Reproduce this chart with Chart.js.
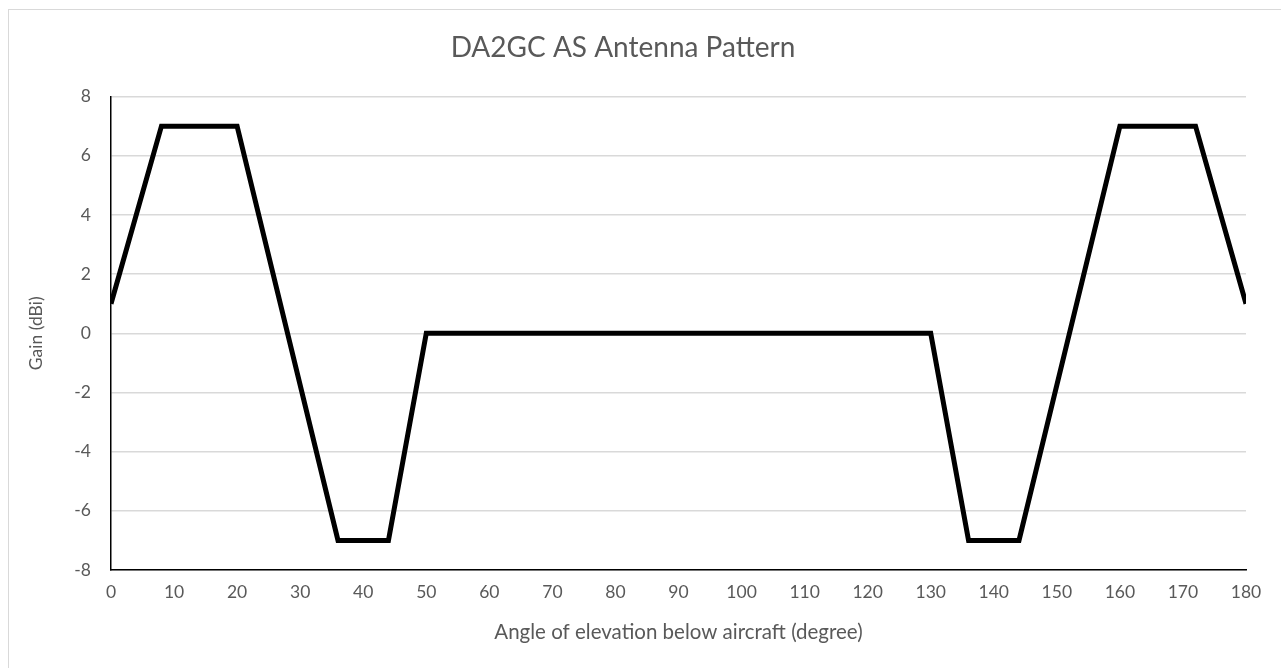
<!DOCTYPE html>
<html>
<head>
<meta charset="utf-8">
<script src="https://cdn.jsdelivr.net/npm/chart.js@4/dist/chart.umd.min.js"></script>
<style>
  html, body { margin: 0; padding: 0; background: #fff; overflow: hidden; }
  #frame { position: absolute; left: 8px; top: 9px; width: 1300px; height: 700px; border: 1px solid #d9d9d9; }
  #wrap { position: absolute; left: 0; top: 0; width: 1281px; height: 668px; }
</style>
</head>
<body>
<div id="frame"></div>
<div id="wrap"><canvas id="chart" width="1281" height="668"></canvas></div>
<script>
// Antenna gain vs elevation angle
const angles = [0, 8, 20, 36, 44, 50, 130, 136, 144, 160, 172, 180];
const gains = [1, 7, 7, -7, -7, 0, 0, -7, -7, 7, 7, 1];
const xTicks = { min: 0, max: 180, step: 10 };
const yTicks = { min: -8, max: 8, step: 2 };

const textColor = '#595959';
const fontFamily = 'Lato, "Open Sans", sans-serif';

const ctx = document.getElementById('chart').getContext('2d');
new Chart(ctx, {
    type: 'line',
    data: {
        datasets: [{
            label: 'Gain',
            data: angles.map((a, i) => ({ x: a, y: gains[i] })),
            borderColor: '#000000',
            borderWidth: 5,
            pointRadius: 0,
            tension: 0,
            fill: false
        }]
    },
    options: {
        responsive: false,
        animation: false,
        layout: { padding: { left: 0, right: 35, top: 0, bottom: 0 } },
        plugins: {
            legend: { display: false },
            tooltip: { enabled: false },
            title: {
                display: true,
                text: 'DA2GC AS Antenna Pattern',
                color: textColor,
                font: { family: fontFamily, size: 28, weight: 'normal' },
                padding: { top: 31, bottom: 32 }
            }
        },
        scales: {
            x: {
                type: 'linear',
                min: xTicks.min,
                max: xTicks.max,
                grid: { display: false, drawTicks: false },
                border: { display: true, color: '#000000', width: 1.5 },
                ticks: {
                    stepSize: xTicks.step,
                    color: textColor,
                    padding: 12,
                    maxRotation: 0,
                    font: { family: fontFamily, size: 17.5 }
                },
                title: {
                    display: true,
                    text: 'Angle of elevation below aircraft (degree)',
                    color: textColor,
                    font: { family: fontFamily, size: 20.5 },
                    padding: { top: 0, bottom: 23 }
                },
                afterFit: scale => { scale.height = 98; }
            },
            y: {
                min: yTicks.min,
                max: yTicks.max,
                grid: { color: '#d9d9d9', lineWidth: 1.5, drawTicks: false },
                border: { display: true, color: '#000000', width: 1.5 },
                ticks: {
                    stepSize: yTicks.step,
                    color: textColor,
                    padding: 20,
                    font: { family: fontFamily, size: 17.5 }
                },
                title: {
                    display: true,
                    text: 'Gain (dBi)',
                    color: textColor,
                    font: { family: fontFamily, size: 17.5 },
                    padding: { top: 26, bottom: 0 }
                },
                afterFit: scale => { scale.width = 111; }
            }
        }
    }
});
</script>
</body>
</html>
